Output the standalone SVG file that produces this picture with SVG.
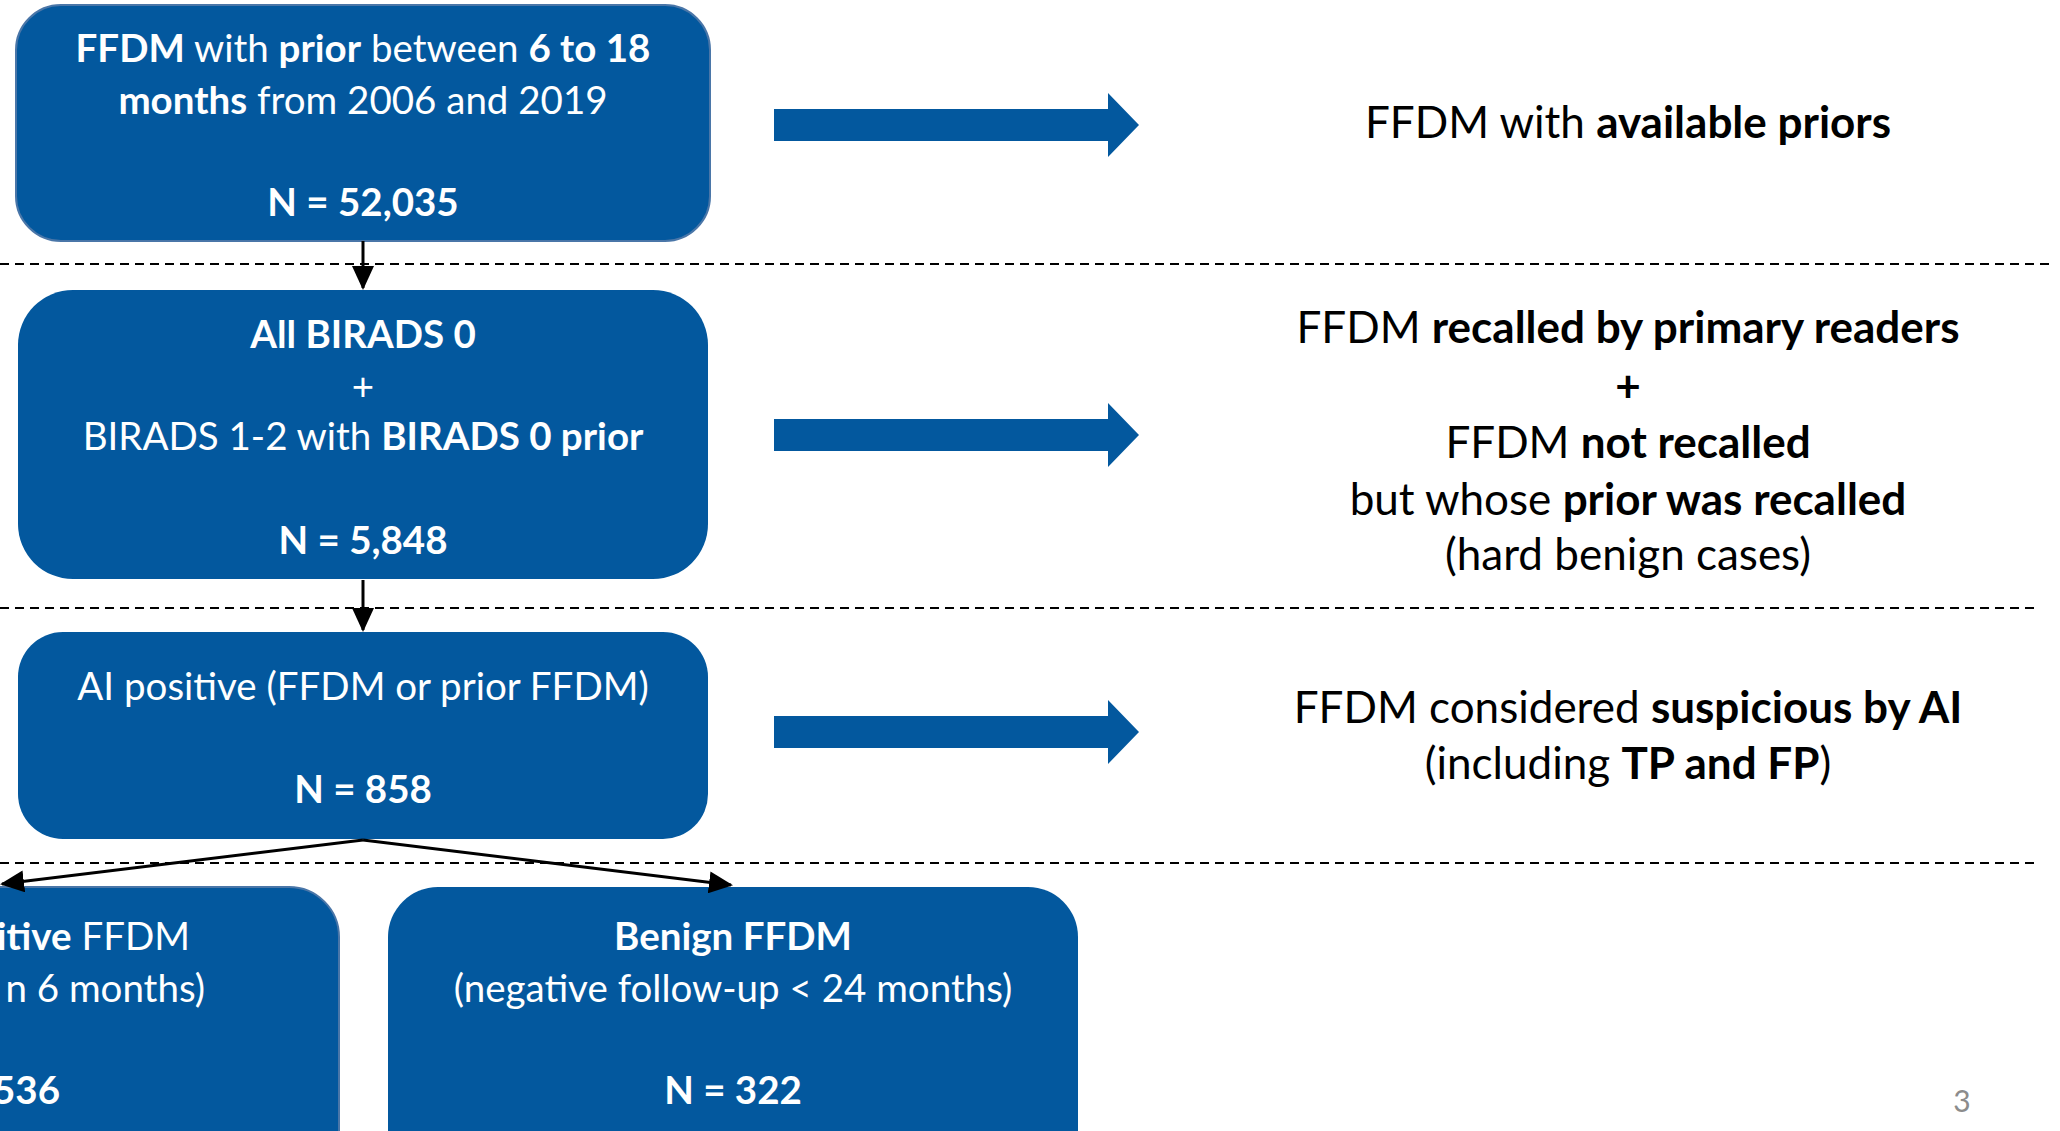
<svg xmlns="http://www.w3.org/2000/svg" width="2060" height="1131" viewBox="0 0 2060 1131">
<style>
.box{fill:#03589E;}
.edge{stroke:#4a76a8;stroke-width:2;}
.t{font-family:Lato,"Open Sans","Liberation Sans",sans-serif;text-anchor:middle;}
.w{fill:#ffffff;font-size:38.5px;}
.k{fill:#000000;font-size:44px;}
.b{font-weight:bold;}
.end{text-anchor:end;}
.dash{stroke:#000;stroke-width:2;stroke-dasharray:9 6;fill:none;}
.conn{stroke:#000;stroke-width:3;fill:none;marker-end:url(#ah);}
.blk{fill:#03589E;}
.pg{font-family:Lato,"Liberation Sans",sans-serif;font-size:30px;fill:#8c8c8c;text-anchor:middle;}
</style>
<defs>
<marker id="ah" markerUnits="userSpaceOnUse" markerWidth="24" markerHeight="22" viewBox="0 0 24 22" refX="22" refY="11" orient="auto">
<path d="M0,0 L24,11 L0,22 z" fill="#000"/>
</marker>
</defs>
<rect width="2060" height="1131" fill="#ffffff"/>

<g id="separators">
<line class="dash" x1="0" y1="264" x2="2050" y2="264"/>
<line class="dash" x1="0" y1="608" x2="2038" y2="608"/>
<line class="dash" x1="0" y1="863" x2="2038" y2="863"/>
</g>

<g id="node-ffdm-prior">
<rect class="box edge" x="16" y="5" width="694" height="236" rx="45" ry="45"/>
<text class="t w" x="363" y="62"><tspan class="b">FFDM</tspan> with <tspan class="b">prior</tspan> between <tspan class="b">6 to 18</tspan></text>
<text class="t w" x="363" y="114"><tspan class="b">months</tspan> from 2006 and 2019</text>
<text class="t w b" x="363" y="216">N = 52,035</text>
</g>

<g id="node-birads">
<rect class="box" x="18" y="290" width="690" height="289" rx="55" ry="55"/>
<text class="t w b" x="363" y="348">All BIRADS 0</text>
<text class="t w" x="363" y="400">+</text>
<text class="t w" x="363" y="450">BIRADS 1-2 with <tspan class="b">BIRADS 0 prior</tspan></text>
<text class="t w b" x="363" y="554">N = 5,848</text>
</g>

<g id="node-ai-positive">
<rect class="box" x="18" y="632" width="690" height="207" rx="45" ry="45"/>
<text class="t w" x="363" y="700">AI positive (FFDM or prior FFDM)</text>
<text class="t w b" x="363" y="803">N = 858</text>
</g>

<g id="node-positive">
<rect class="box edge" x="-350" y="887" width="689" height="300" rx="50" ry="50"/>
<text class="t w end" x="190" y="950"><tspan class="b">itive</tspan> FFDM</text>
<text class="t w end" x="205" y="1002">n 6 months)</text>
<text class="t w b end" x="60" y="1104">536</text>
</g>

<g id="node-benign">
<rect class="box" x="388" y="887" width="690" height="300" rx="50" ry="50"/>
<text class="t w b" x="733" y="950">Benign FFDM</text>
<text class="t w" x="733" y="1002">(negative follow-up &lt; 24 months)</text>
<text class="t w b" x="733" y="1104">N = 322</text>
</g>

<g id="label-available">
<text class="t k" x="1628" y="138">FFDM with <tspan class="b">available priors</tspan></text>
</g>

<g id="label-recalled">
<text class="t k" x="1628" y="343">FFDM <tspan class="b">recalled by primary readers</tspan></text>
<text class="t k b" x="1628" y="402">+</text>
<text class="t k" x="1628" y="458">FFDM <tspan class="b">not recalled</tspan></text>
<text class="t k" x="1628" y="515">but whose <tspan class="b">prior was recalled</tspan></text>
<text class="t k" x="1628" y="570">(hard benign cases)</text>
</g>

<g id="label-suspicious">
<text class="t k" x="1628" y="723">FFDM considered <tspan class="b">suspicious by AI</tspan></text>
<text class="t k" x="1628" y="779">(including <tspan class="b">TP and FP</tspan>)</text>
</g>

<g id="connectors">
<line class="conn" x1="363" y1="241" x2="363" y2="288"/>
<line class="conn" x1="363" y1="580" x2="363" y2="630"/>
<line class="conn" x1="363" y1="840" x2="2" y2="884"/>
<line class="conn" x1="363" y1="840" x2="731" y2="885"/>
<polygon class="blk" points="774,109 1108,109 1108,93 1139,125 1108,157 1108,141 774,141"/>
<polygon class="blk" points="774,419 1108,419 1108,403 1139,435 1108,467 1108,451 774,451"/>
<polygon class="blk" points="774,716 1108,716 1108,700 1139,732 1108,764 1108,748 774,748"/>
</g>

<g id="page-number">
<text class="pg" x="1962" y="1112">3</text>
</g>
</svg>
